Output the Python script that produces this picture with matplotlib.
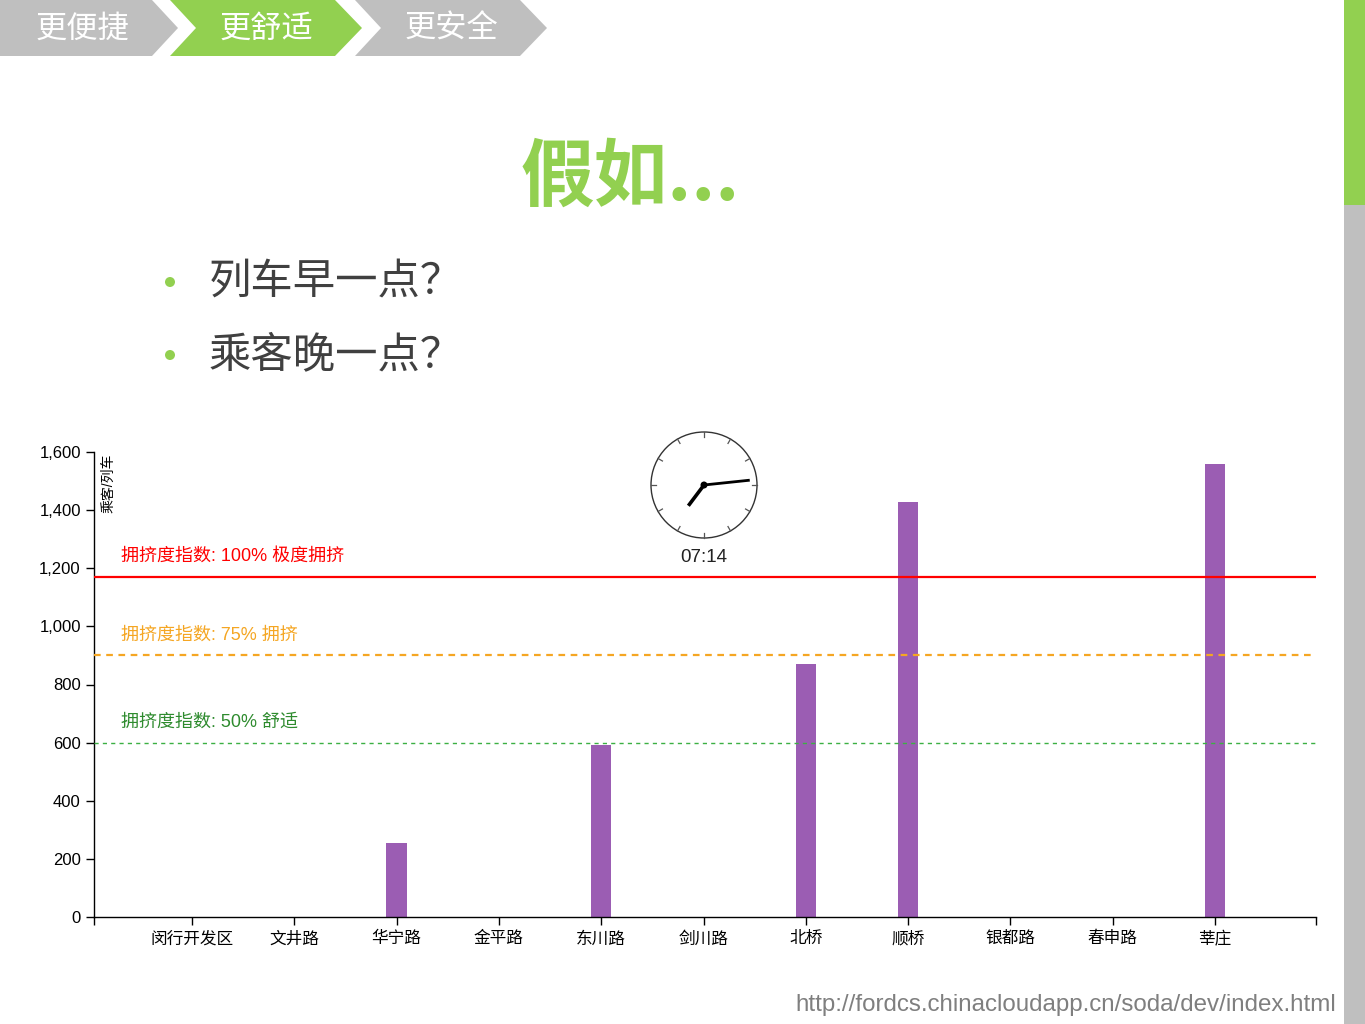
import matplotlib
matplotlib.use("Agg")
import matplotlib.pyplot as plt
import numpy as np
from matplotlib.patches import Polygon, Rectangle, Circle

plt.rcParams['font.family'] = ['Liberation Sans', 'Noto Sans CJK SC', 'DejaVu Sans']

# data
stations = ['闵行开发区', '文井路', '华宁路', '金平路', '东川路', '剑川路',
            '北桥', '顺桥', '银都路', '春申路', '莘庄']
passengers = [0, 0, 255, 0, 592, 0, 871, 1428, 0, 0, 1559]
levels = [1170, 900, 600]
level_labels = ['拥挤度指数: 100% 极度拥挤', '拥挤度指数: 75% 拥挤', '拥挤度指数: 50% 舒适']
level_colors = ['#ff0000', '#f5a623', '#3cb043']
level_text_colors = ['#ff0000', '#f5a623', '#2e8b2e']
level_styles = ['-', (0, (3, 2.5)), (0, (3, 3))]
level_widths = [1.6, 1.6, 1.0]
tabs = ['更便捷', '更舒适', '更安全']
active_tab = 1
bullets = ['列车早一点？', '乘客晚一点？']
clock_time = '07:14'
url = 'http://fordcs.chinacloudapp.cn/soda/dev/index.html'

GREEN = '#92d050'
GRAY = '#bfbfbf'
W, H = 1365, 1024

fig = plt.figure(figsize=(W / 100, H / 100), dpi=100)

# overlay for slide decorations, pixel coordinates
bg = fig.add_axes([0, 0, 1, 1], zorder=0)
bg.set_xlim(0, W)
bg.set_ylim(H, 0)
bg.axis('off')

# chevron tabs
for i, name in enumerate(tabs):
    x0 = i * 185
    col = GREEN if i == active_tab else GRAY
    if i == 0:
        pts = [(0, 0), (152, 0), (178, 28), (152, 56), (0, 56)]
    else:
        pts = [(x0 - 15, 0), (x0 + 150, 0), (x0 + 177, 28), (x0 + 150, 56),
               (x0 - 15, 56), (x0 + 11, 28)]
    bg.add_patch(Polygon(pts, closed=True, fc=col, ec='none'))
    bg.text(x0 + 82 if i == 0 else x0 + 81, 29, name, color='white', fontsize=22.5,
            ha='center', va='center', family=['Noto Sans CJK SC', 'DejaVu Sans'])

# right side bar
bg.add_patch(Rectangle((1344, 0), 21, 205, fc=GREEN, ec='none'))
bg.add_patch(Rectangle((1344, 205), 21, H - 205, fc=GRAY, ec='none'))

# title
bg.text(630, 178, '假如...', color=GREEN, fontsize=53, fontweight='heavy',
        ha='center', va='center', family=['Noto Sans CJK SC', 'DejaVu Sans'])

# bullets
for j, b in enumerate(bullets):
    y = 282 + j * 73
    bg.add_patch(Circle((170, y), 5, fc=GREEN, ec='none'))
    bg.text(209, y, b, color='#404040', fontsize=30.5, ha='left', va='center',
            family=['Noto Sans CJK SC', 'DejaVu Sans'])

# clock
cx, cy, r = 704, 485, 53
bg.add_patch(Circle((cx, cy), r, fc='white', ec='#333333', lw=1.0, zorder=3))
for k in range(12):
    a = np.deg2rad(k * 30)
    bg.plot([cx + (r - 5) * np.sin(a), cx + r * np.sin(a)],
            [cy - (r - 5) * np.cos(a), cy - r * np.cos(a)],
            color='#555555', lw=0.9, zorder=4)
hh, mm = [int(v) for v in clock_time.split(':')]
ha_ang = np.deg2rad(((hh % 12) + mm / 60) * 30)
ma_ang = np.deg2rad(mm * 6)
bg.plot([cx, cx + 26 * np.sin(ha_ang)], [cy, cy - 26 * np.cos(ha_ang)],
        color='black', lw=2.6, solid_capstyle='butt', zorder=5)
bg.plot([cx, cx + 46 * np.sin(ma_ang)], [cy, cy - 46 * np.cos(ma_ang)],
        color='black', lw=2.0, solid_capstyle='butt', zorder=5)
bg.add_patch(Circle((cx, cy), 3.5, fc='black', ec='none', zorder=6))
bg.text(cx, 558, clock_time, fontsize=13.5, ha='center', va='center', color='#222222')

# url
bg.text(1336, 1005, url, color='#7f7f7f', fontsize=17.4, ha='right', va='center',
        family=['Liberation Sans', 'DejaVu Sans'])

# chart
ax = fig.add_axes([94 / W, 1 - 917 / H, 1222 / W, 465 / H], zorder=1)
ax.set_facecolor('none')
xpos = np.arange(1, len(stations) + 1)
x_lo, x_hi = 0.042, 11.987
ax.bar(xpos, passengers, width=0.2, color='#9b5db3', zorder=2)
for lv, lab, c, tc, ls, lw in zip(levels, level_labels, level_colors,
                                  level_text_colors, level_styles, level_widths):
    ax.axhline(lv, color=c, ls=ls, lw=lw, zorder=3)
    ax.text(0.305, lv + 70, lab, color=tc, fontsize=13, ha='left', va='center', zorder=4)

ax.set_xlim(x_lo, x_hi)
ax.set_ylim(0, 1600)
ax.set_yticks(np.arange(0, 1601, 200))
ax.set_yticklabels([f'{v:,}' for v in range(0, 1601, 200)])
ax.set_xticks(np.concatenate([[x_lo], xpos, [x_hi]]))
ax.set_xticklabels([''] + stations + [''])
ax.tick_params(axis='both', direction='out', length=6, width=1, labelsize=12, colors='black')
ax.tick_params(axis='x', pad=4)
for s in ['top', 'right']:
    ax.spines[s].set_visible(False)
for s in ['left', 'bottom']:
    ax.spines[s].set_linewidth(1.0)
ax.text(0.18, 1595, '乘客/列车', rotation=90, ha='center', va='top', fontsize=10)

fig.savefig('out.png', dpi=100)
